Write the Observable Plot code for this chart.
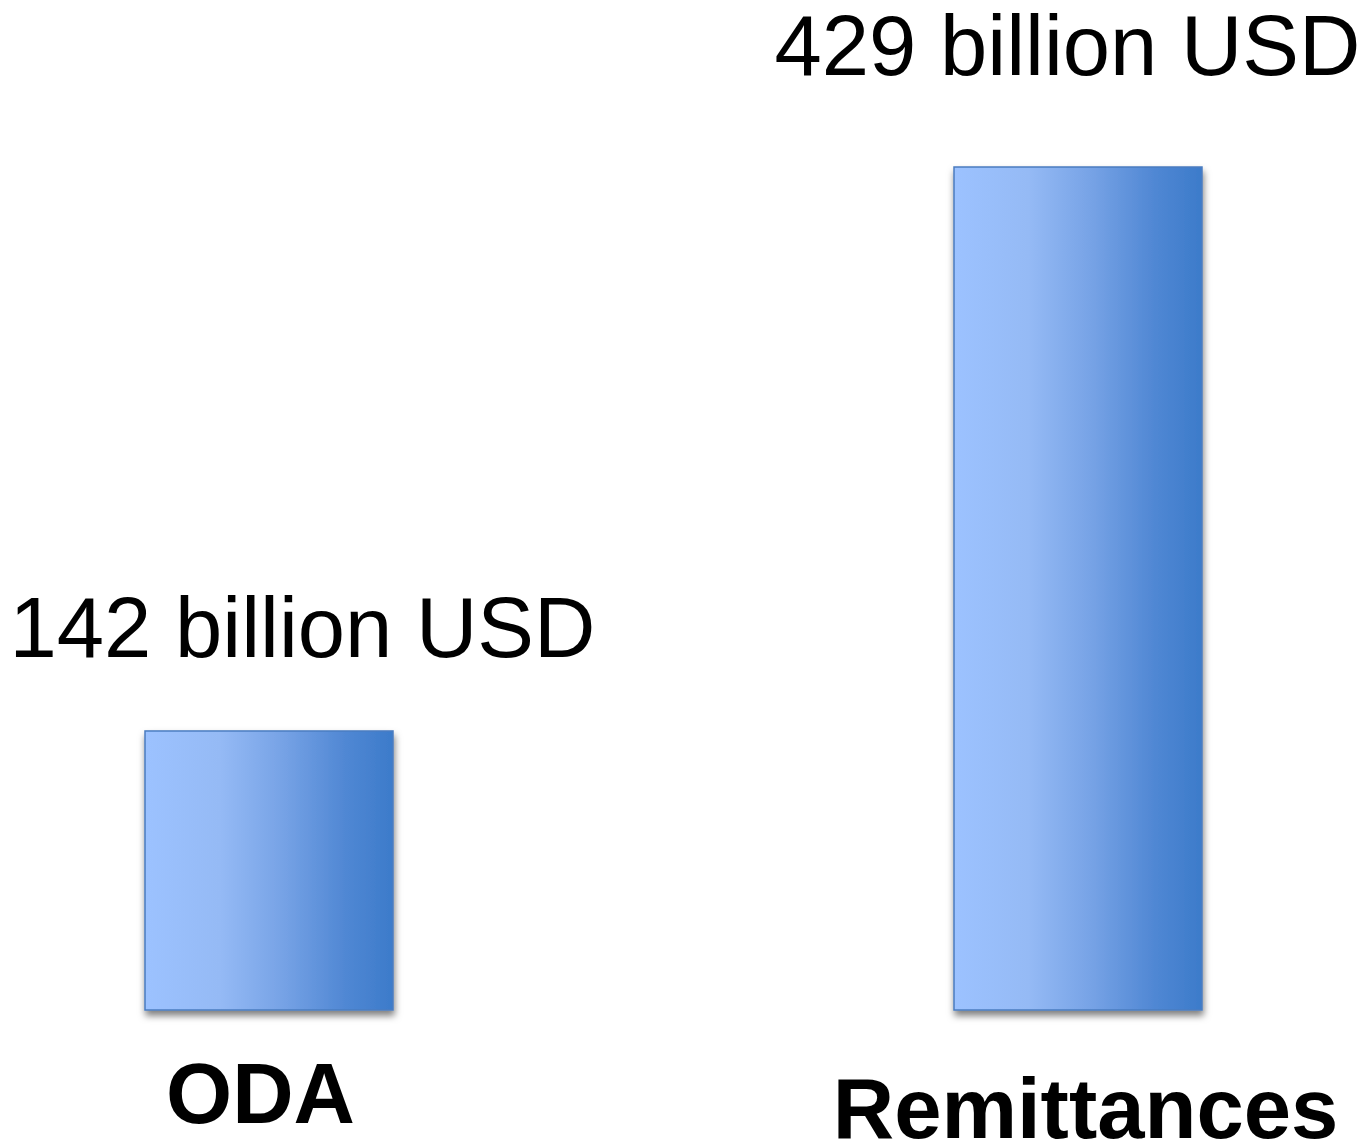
<!DOCTYPE html>
<html>
<head>
<meta charset="utf-8">
<script src="https://cdn.jsdelivr.net/npm/d3@7"></script>
<script src="https://cdn.jsdelivr.net/npm/@observablehq/plot@0.6"></script>
<style>
  html, body { margin: 0; padding: 0; background: #fff; }
  svg { display: block; }
</style>
</head>
<body>
<div id="chart"></div>
<script>
const categories = ["ODA", "Remittances"];
const values = [142, 429];
const valueLabels = ["142 billion USD", "429 billion USD"];

const data = categories.map((c, i) => ({category: c, value: values[i], label: valueLabels[i]}));

const defs = () => {
  const g = d3.create("svg:defs");
  const grad = g.append("linearGradient").attr("id", "barGrad").attr("x1", "0").attr("x2", "1").attr("y1", "0").attr("y2", "0");
  [[0, "#9cc2ff"], [0.3, "#95baf5"], [0.55, "#77a3e6"], [0.8, "#5188d4"], [1, "#3c7bca"]].forEach(([o, c]) =>
    grad.append("stop").attr("offset", o).attr("stop-color", c));
  const f = g.append("filter").attr("id", "shadow").attr("x", "-10%").attr("y", "-10%").attr("width", "130%").attr("height", "130%");
  f.append("feDropShadow").attr("dx", 1).attr("dy", 5).attr("stdDeviation", 3.5).attr("flood-color", "#000").attr("flood-opacity", 0.5);
  return g.node();
};

const font = "'Liberation Sans', Arial, Helvetica, sans-serif";
const fs = 85;

const chart = Plot.plot({
  width: 1370,
  height: 1142,
  margin: 0,
  style: {fontFamily: font, background: "#fff", overflow: "visible"},
  x: {type: "band", domain: categories, range: [145, 1202.5], paddingInner: 0.6936, paddingOuter: 0, axis: null},
  y: {domain: [0, 429], range: [1010, 167], axis: null},
  marks: [
    defs,
    Plot.barY(data, {x: "category", y: "value", fill: "url(#barGrad)", stroke: "#4a7cc0", strokeWidth: 1.5}),
    Plot.text(data.filter(d => d.category === "ODA"), {x: "category", y: "value", text: "label", fontSize: fs, fill: "#000", lineAnchor: "middle", dy: -101.5, dx: 33}),
    Plot.text(data.filter(d => d.category === "Remittances"), {x: "category", y: "value", text: "label", fontSize: fs, fill: "#000", lineAnchor: "middle", dy: -120, dx: -11}),
    Plot.text(data.filter(d => d.category === "ODA"), {x: "category", y: 0, text: "category", fontSize: fs, fontWeight: "bold", fill: "#000", lineAnchor: "middle", dy: 85.5, dx: -9}),
    Plot.text(data.filter(d => d.category === "Remittances"), {x: "category", y: 0, text: "category", fontSize: fs, fontWeight: "bold", fill: "#000", lineAnchor: "middle", dy: 100, dx: 7})
  ]
});
d3.select(chart).selectAll("rect").attr("filter", "url(#shadow)");
document.getElementById("chart").append(chart);
</script>
</body>
</html>
